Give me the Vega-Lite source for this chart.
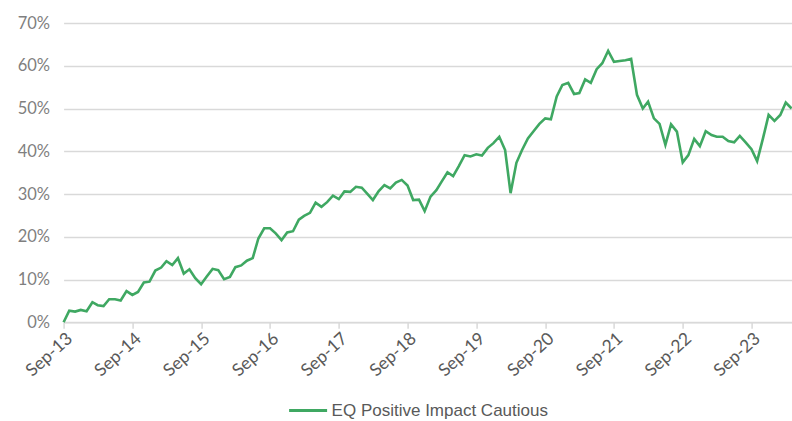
{
  "$schema": "https://vega.github.io/schema/vega-lite/v6.json",
  "autosize": {"type": "none"},
  "padding": {"left": 63.6, "top": 23, "right": 0.4, "bottom": 98.7},
  "width": 728,
  "height": 299.3,
  "background": "white",
  "config": {"view": {"stroke": null}, "font": "Lato"},
  "data": {"values": [
    {"d": "2013-09-01", "v": 0.000, "s": "EQ Positive Impact Cautious"},
    {"d": "2013-10-01", "v": 0.027, "s": "EQ Positive Impact Cautious"},
    {"d": "2013-11-01", "v": 0.025, "s": "EQ Positive Impact Cautious"},
    {"d": "2013-12-01", "v": 0.029, "s": "EQ Positive Impact Cautious"},
    {"d": "2014-01-01", "v": 0.026, "s": "EQ Positive Impact Cautious"},
    {"d": "2014-02-01", "v": 0.047, "s": "EQ Positive Impact Cautious"},
    {"d": "2014-03-01", "v": 0.040, "s": "EQ Positive Impact Cautious"},
    {"d": "2014-04-01", "v": 0.038, "s": "EQ Positive Impact Cautious"},
    {"d": "2014-05-01", "v": 0.054, "s": "EQ Positive Impact Cautious"},
    {"d": "2014-06-01", "v": 0.054, "s": "EQ Positive Impact Cautious"},
    {"d": "2014-07-01", "v": 0.051, "s": "EQ Positive Impact Cautious"},
    {"d": "2014-08-01", "v": 0.073, "s": "EQ Positive Impact Cautious"},
    {"d": "2014-09-01", "v": 0.064, "s": "EQ Positive Impact Cautious"},
    {"d": "2014-10-01", "v": 0.071, "s": "EQ Positive Impact Cautious"},
    {"d": "2014-11-01", "v": 0.093, "s": "EQ Positive Impact Cautious"},
    {"d": "2014-12-01", "v": 0.095, "s": "EQ Positive Impact Cautious"},
    {"d": "2015-01-01", "v": 0.121, "s": "EQ Positive Impact Cautious"},
    {"d": "2015-02-01", "v": 0.128, "s": "EQ Positive Impact Cautious"},
    {"d": "2015-03-01", "v": 0.143, "s": "EQ Positive Impact Cautious"},
    {"d": "2015-04-01", "v": 0.134, "s": "EQ Positive Impact Cautious"},
    {"d": "2015-05-01", "v": 0.150, "s": "EQ Positive Impact Cautious"},
    {"d": "2015-06-01", "v": 0.114, "s": "EQ Positive Impact Cautious"},
    {"d": "2015-07-01", "v": 0.124, "s": "EQ Positive Impact Cautious"},
    {"d": "2015-08-01", "v": 0.103, "s": "EQ Positive Impact Cautious"},
    {"d": "2015-09-01", "v": 0.089, "s": "EQ Positive Impact Cautious"},
    {"d": "2015-10-01", "v": 0.107, "s": "EQ Positive Impact Cautious"},
    {"d": "2015-11-01", "v": 0.125, "s": "EQ Positive Impact Cautious"},
    {"d": "2015-12-01", "v": 0.122, "s": "EQ Positive Impact Cautious"},
    {"d": "2016-01-01", "v": 0.101, "s": "EQ Positive Impact Cautious"},
    {"d": "2016-02-01", "v": 0.106, "s": "EQ Positive Impact Cautious"},
    {"d": "2016-03-01", "v": 0.129, "s": "EQ Positive Impact Cautious"},
    {"d": "2016-04-01", "v": 0.133, "s": "EQ Positive Impact Cautious"},
    {"d": "2016-05-01", "v": 0.144, "s": "EQ Positive Impact Cautious"},
    {"d": "2016-06-01", "v": 0.150, "s": "EQ Positive Impact Cautious"},
    {"d": "2016-07-01", "v": 0.196, "s": "EQ Positive Impact Cautious"},
    {"d": "2016-08-01", "v": 0.220, "s": "EQ Positive Impact Cautious"},
    {"d": "2016-09-01", "v": 0.220, "s": "EQ Positive Impact Cautious"},
    {"d": "2016-10-01", "v": 0.208, "s": "EQ Positive Impact Cautious"},
    {"d": "2016-11-01", "v": 0.192, "s": "EQ Positive Impact Cautious"},
    {"d": "2016-12-01", "v": 0.210, "s": "EQ Positive Impact Cautious"},
    {"d": "2017-01-01", "v": 0.213, "s": "EQ Positive Impact Cautious"},
    {"d": "2017-02-01", "v": 0.240, "s": "EQ Positive Impact Cautious"},
    {"d": "2017-03-01", "v": 0.249, "s": "EQ Positive Impact Cautious"},
    {"d": "2017-04-01", "v": 0.256, "s": "EQ Positive Impact Cautious"},
    {"d": "2017-05-01", "v": 0.280, "s": "EQ Positive Impact Cautious"},
    {"d": "2017-06-01", "v": 0.270, "s": "EQ Positive Impact Cautious"},
    {"d": "2017-07-01", "v": 0.281, "s": "EQ Positive Impact Cautious"},
    {"d": "2017-08-01", "v": 0.296, "s": "EQ Positive Impact Cautious"},
    {"d": "2017-09-01", "v": 0.288, "s": "EQ Positive Impact Cautious"},
    {"d": "2017-10-01", "v": 0.306, "s": "EQ Positive Impact Cautious"},
    {"d": "2017-11-01", "v": 0.305, "s": "EQ Positive Impact Cautious"},
    {"d": "2017-12-01", "v": 0.317, "s": "EQ Positive Impact Cautious"},
    {"d": "2018-01-01", "v": 0.315, "s": "EQ Positive Impact Cautious"},
    {"d": "2018-02-01", "v": 0.300, "s": "EQ Positive Impact Cautious"},
    {"d": "2018-03-01", "v": 0.286, "s": "EQ Positive Impact Cautious"},
    {"d": "2018-04-01", "v": 0.307, "s": "EQ Positive Impact Cautious"},
    {"d": "2018-05-01", "v": 0.321, "s": "EQ Positive Impact Cautious"},
    {"d": "2018-06-01", "v": 0.313, "s": "EQ Positive Impact Cautious"},
    {"d": "2018-07-01", "v": 0.327, "s": "EQ Positive Impact Cautious"},
    {"d": "2018-08-01", "v": 0.333, "s": "EQ Positive Impact Cautious"},
    {"d": "2018-09-01", "v": 0.320, "s": "EQ Positive Impact Cautious"},
    {"d": "2018-10-01", "v": 0.286, "s": "EQ Positive Impact Cautious"},
    {"d": "2018-11-01", "v": 0.287, "s": "EQ Positive Impact Cautious"},
    {"d": "2018-12-01", "v": 0.260, "s": "EQ Positive Impact Cautious"},
    {"d": "2019-01-01", "v": 0.294, "s": "EQ Positive Impact Cautious"},
    {"d": "2019-02-01", "v": 0.309, "s": "EQ Positive Impact Cautious"},
    {"d": "2019-03-01", "v": 0.329, "s": "EQ Positive Impact Cautious"},
    {"d": "2019-04-01", "v": 0.351, "s": "EQ Positive Impact Cautious"},
    {"d": "2019-05-01", "v": 0.342, "s": "EQ Positive Impact Cautious"},
    {"d": "2019-06-01", "v": 0.366, "s": "EQ Positive Impact Cautious"},
    {"d": "2019-07-01", "v": 0.391, "s": "EQ Positive Impact Cautious"},
    {"d": "2019-08-01", "v": 0.388, "s": "EQ Positive Impact Cautious"},
    {"d": "2019-09-01", "v": 0.393, "s": "EQ Positive Impact Cautious"},
    {"d": "2019-10-01", "v": 0.390, "s": "EQ Positive Impact Cautious"},
    {"d": "2019-11-01", "v": 0.408, "s": "EQ Positive Impact Cautious"},
    {"d": "2019-12-01", "v": 0.419, "s": "EQ Positive Impact Cautious"},
    {"d": "2020-01-01", "v": 0.434, "s": "EQ Positive Impact Cautious"},
    {"d": "2020-02-01", "v": 0.403, "s": "EQ Positive Impact Cautious"},
    {"d": "2020-03-01", "v": 0.302, "s": "EQ Positive Impact Cautious"},
    {"d": "2020-04-01", "v": 0.373, "s": "EQ Positive Impact Cautious"},
    {"d": "2020-05-01", "v": 0.403, "s": "EQ Positive Impact Cautious"},
    {"d": "2020-06-01", "v": 0.430, "s": "EQ Positive Impact Cautious"},
    {"d": "2020-07-01", "v": 0.447, "s": "EQ Positive Impact Cautious"},
    {"d": "2020-08-01", "v": 0.464, "s": "EQ Positive Impact Cautious"},
    {"d": "2020-09-01", "v": 0.477, "s": "EQ Positive Impact Cautious"},
    {"d": "2020-10-01", "v": 0.475, "s": "EQ Positive Impact Cautious"},
    {"d": "2020-11-01", "v": 0.528, "s": "EQ Positive Impact Cautious"},
    {"d": "2020-12-01", "v": 0.555, "s": "EQ Positive Impact Cautious"},
    {"d": "2021-01-01", "v": 0.560, "s": "EQ Positive Impact Cautious"},
    {"d": "2021-02-01", "v": 0.534, "s": "EQ Positive Impact Cautious"},
    {"d": "2021-03-01", "v": 0.536, "s": "EQ Positive Impact Cautious"},
    {"d": "2021-04-01", "v": 0.568, "s": "EQ Positive Impact Cautious"},
    {"d": "2021-05-01", "v": 0.560, "s": "EQ Positive Impact Cautious"},
    {"d": "2021-06-01", "v": 0.592, "s": "EQ Positive Impact Cautious"},
    {"d": "2021-07-01", "v": 0.606, "s": "EQ Positive Impact Cautious"},
    {"d": "2021-08-01", "v": 0.635, "s": "EQ Positive Impact Cautious"},
    {"d": "2021-09-01", "v": 0.609, "s": "EQ Positive Impact Cautious"},
    {"d": "2021-10-01", "v": 0.611, "s": "EQ Positive Impact Cautious"},
    {"d": "2021-11-01", "v": 0.613, "s": "EQ Positive Impact Cautious"},
    {"d": "2021-12-01", "v": 0.616, "s": "EQ Positive Impact Cautious"},
    {"d": "2022-01-01", "v": 0.532, "s": "EQ Positive Impact Cautious"},
    {"d": "2022-02-01", "v": 0.500, "s": "EQ Positive Impact Cautious"},
    {"d": "2022-03-01", "v": 0.516, "s": "EQ Positive Impact Cautious"},
    {"d": "2022-04-01", "v": 0.477, "s": "EQ Positive Impact Cautious"},
    {"d": "2022-05-01", "v": 0.464, "s": "EQ Positive Impact Cautious"},
    {"d": "2022-06-01", "v": 0.415, "s": "EQ Positive Impact Cautious"},
    {"d": "2022-07-01", "v": 0.463, "s": "EQ Positive Impact Cautious"},
    {"d": "2022-08-01", "v": 0.446, "s": "EQ Positive Impact Cautious"},
    {"d": "2022-09-01", "v": 0.374, "s": "EQ Positive Impact Cautious"},
    {"d": "2022-10-01", "v": 0.391, "s": "EQ Positive Impact Cautious"},
    {"d": "2022-11-01", "v": 0.429, "s": "EQ Positive Impact Cautious"},
    {"d": "2022-12-01", "v": 0.412, "s": "EQ Positive Impact Cautious"},
    {"d": "2023-01-01", "v": 0.447, "s": "EQ Positive Impact Cautious"},
    {"d": "2023-02-01", "v": 0.438, "s": "EQ Positive Impact Cautious"},
    {"d": "2023-03-01", "v": 0.434, "s": "EQ Positive Impact Cautious"},
    {"d": "2023-04-01", "v": 0.434, "s": "EQ Positive Impact Cautious"},
    {"d": "2023-05-01", "v": 0.424, "s": "EQ Positive Impact Cautious"},
    {"d": "2023-06-01", "v": 0.421, "s": "EQ Positive Impact Cautious"},
    {"d": "2023-07-01", "v": 0.436, "s": "EQ Positive Impact Cautious"},
    {"d": "2023-08-01", "v": 0.421, "s": "EQ Positive Impact Cautious"},
    {"d": "2023-09-01", "v": 0.405, "s": "EQ Positive Impact Cautious"},
    {"d": "2023-10-01", "v": 0.377, "s": "EQ Positive Impact Cautious"},
    {"d": "2023-11-01", "v": 0.430, "s": "EQ Positive Impact Cautious"},
    {"d": "2023-12-01", "v": 0.485, "s": "EQ Positive Impact Cautious"},
    {"d": "2024-01-01", "v": 0.471, "s": "EQ Positive Impact Cautious"},
    {"d": "2024-02-01", "v": 0.485, "s": "EQ Positive Impact Cautious"},
    {"d": "2024-03-01", "v": 0.514, "s": "EQ Positive Impact Cautious"},
    {"d": "2024-04-01", "v": 0.500, "s": "EQ Positive Impact Cautious"}
  ]},
  "mark": {"type": "line", "strokeWidth": 2.6, "interpolate": "linear"},
  "encoding": {
    "x": {
      "field": "d", "type": "temporal", "title": null,
      "scale": {"domain": [{"year": 2013, "month": 9, "date": 1}, {"year": 2024, "month": 4, "date": 1}]},
      "axis": {
        "values": [
          {"year": 2013, "month": 9, "date": 1}, {"year": 2014, "month": 9, "date": 1},
          {"year": 2015, "month": 9, "date": 1}, {"year": 2016, "month": 9, "date": 1},
          {"year": 2017, "month": 9, "date": 1}, {"year": 2018, "month": 9, "date": 1},
          {"year": 2019, "month": 9, "date": 1}, {"year": 2020, "month": 9, "date": 1},
          {"year": 2021, "month": 9, "date": 1}, {"year": 2022, "month": 9, "date": 1},
          {"year": 2023, "month": 9, "date": 1}
        ],
        "format": "%b-%y", "labelAngle": -42, "labelFontSize": 17.5, "labelColor": "#595959",
        "labelFont": "Lato", "grid": false, "domainColor": "#d9d9d9", "domainWidth": 1.5,
        "tickColor": "#d9d9d9", "tickSize": 6, "tickWidth": 1.5, "labelPadding": 1
      }
    },
    "y": {
      "field": "v", "type": "quantitative", "title": null,
      "scale": {"domain": [0, 0.7], "nice": false},
      "axis": {
        "values": [0, 0.1, 0.2, 0.3, 0.4, 0.5, 0.6, 0.7], "format": ".0%",
        "domain": false, "ticks": false, "labelPadding": 14, "labelFontSize": 16.5,
        "labelColor": "#7f7f7f", "labelFont": "Lato", "gridColor": "#d9d9d9", "gridWidth": 1.5
      }
    },
    "color": {
      "field": "s", "type": "nominal", "title": null,
      "scale": {"range": ["#3fa862"]},
      "legend": {
        "orient": "none", "legendX": 224, "legendY": 367, "symbolType": "stroke",
        "symbolSize": 1444, "symbolStrokeWidth": 3, "labelFontSize": 17,
        "labelFont": "Liberation Sans", "labelColor": "#595959", "labelOffset": 3, "labelLimit": 0
      }
    }
  }
}
